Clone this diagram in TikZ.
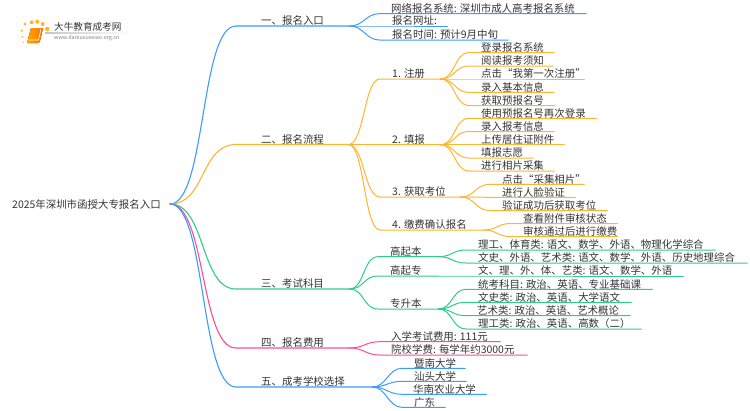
\documentclass[tikz,border=0pt]{standalone}
\usepackage{fontspec}
\setmainfont{Noto Sans CJK SC}
\definecolor{cblue}{HTML}{3D9BFF}
\definecolor{corange}{HTML}{FFB52E}
\definecolor{cgreen}{HTML}{2ECC8B}
\definecolor{cpink}{HTML}{FF4D8F}
\definecolor{ctext}{HTML}{333333}
\tikzset{
  mapnode/.style={anchor=south west,inner xsep=0pt,inner ysep=1pt,text height=8pt,text depth=0pt,text=ctext,font=\fontsize{10.45}{12}\selectfont},
  link/.style={line width=1pt,line cap=round},
  toplink/.style={line width=1.1pt,line cap=round},
}
% colour, parent, name, curve end x, y, line end x, text x, text, control distance
\newcommand{\mapitem}[9]{%
  \pgfmathsetlengthmacro{\itemw}{#6-#4}%
  \pgfmathsetlengthmacro{\itemo}{#7-#4}%
  \node[mapnode] (#3) at (#4,#5) {\makebox[\itemw][l]{\hspace*{\itemo}#8}};
  \draw[link,#1] (#2.south east) .. controls +(#9,0) and +(-#9,0) .. (#3.south west) -- (#3.south east);
}
\begin{document}
\begin{tikzpicture}[x=1pt,y=-1pt]
\useasboundingbox (0,0) rectangle (750,410);
% logo
\foreach \x/\y/\r in {21.7/30.7/1.2,25/24/1.6,31.7/22.3/2,37.3/21.7/2,42.7/24/2,47.3/29/2.3,22.3/36.7/1,23.3/42.3/.8}
  \fill[corange] (\x,\y) circle (\r);
\fill[left color=gray!45,right color=white,draw=none] (45,32.7) rectangle (133,33.4);
\fill[left color=orange!70!yellow,right color=orange!90!red] (31,28) -- (43,28) -- (40,41) .. controls (39.5,43) and (38,43) .. (37,43) -- (27,43) -- cycle;
\draw[white,line width=.6pt] (28.5,40) -- (38.5,40) -- (41,29);
\node[inner sep=0pt,anchor=west,text=ctext,font=\fontsize{9.6}{11}\selectfont] (logotitle) at (54,27) {大牛教育成考网};
\node[inner sep=0pt,anchor=west,text=gray,font=\fontsize{5.4}{6}\selectfont] (logourl) at (54,38.5) {www.daniuxuexiao.org.cn};
% root
\node[mapnode,inner ysep=0pt,anchor=west] (root) at (12,204.8) {2025年深圳市函授大专报名入口};
\coordinate (rootend) at (170,204);
% level 1
\foreach \n/\y/\e/\c/\t in {a/26/349/cblue/一、报名入口,b/144.5/348/corange/二、报名流程,c/289/349/cgreen/三、考试科目,d/348/349/cpink/四、报名费用,e/387/372/cblue/五、成考学校选择}{
  \pgfmathsetlengthmacro{\itemw}{\e-236}
  \node[mapnode] (\n) at (236,\y) {\makebox[\itemw][l]{\hspace*{25pt}\t}};
  \draw[toplink,\c] (rootend) .. controls +(36,0) and +(-36,0) .. (\n.south west) -- (\n.south east);
}
% 一
\mapitem{cblue}{a}{a1}{380}{13.7}{586}{391}{网络报名系统: 深圳市成人高考报名系统}{15}
\mapitem{cblue}{a}{a2}{380}{26}{447}{392}{报名网址:}{15}
\mapitem{cblue}{a}{a3}{380}{40}{508}{392}{报名时间: 预计9月中旬}{15}
% 二
\mapitem{corange}{b}{b1}{380}{79}{440}{392}{1. 注册}{16}
\mapitem{corange}{b}{b2}{380}{144.7}{440}{392}{2. 填报}{16}
\mapitem{corange}{b}{b3}{380}{197}{460}{392}{3. 获取考位}{16}
\mapitem{corange}{b}{b4}{380}{230}{483}{392}{4. 缴费确认报名}{16}
\mapitem{corange}{b1}{b11}{469}{52.7}{554}{481}{登录报名系统}{15}
\mapitem{corange}{b1}{b12}{469}{66}{553}{481}{阅读报考须知}{15}
\mapitem{corange}{b1}{b13}{469}{79}{584}{481}{点击“我第一次注册”}{15}
\mapitem{corange}{b1}{b14}{469}{92.3}{554}{481}{录入基本信息}{15}
\mapitem{corange}{b1}{b15}{469}{105.5}{554}{481}{获取预报名号}{15}
\mapitem{corange}{b2}{b21}{469}{118.3}{596}{481}{使用预报名号再次登录}{15}
\mapitem{corange}{b2}{b22}{469}{131.5}{554}{481}{录入报考信息}{15}
\mapitem{corange}{b2}{b23}{469}{144.7}{564}{481}{上传居住证附件}{15}
\mapitem{corange}{b2}{b24}{469}{158}{533}{481}{填报志愿}{15}
\mapitem{corange}{b2}{b25}{469}{171}{554}{481}{进行相片采集}{15}
\mapitem{corange}{b3}{b31}{490}{184.3}{584}{502}{点击“采集相片”}{15}
\mapitem{corange}{b3}{b32}{490}{197.3}{575}{502}{进行人脸验证}{15}
\mapitem{corange}{b3}{b33}{490}{210.5}{607}{502}{验证成功后获取考位}{15}
\mapitem{corange}{b4}{b41}{511}{223.5}{617}{523}{查看附件审核状态}{14}
\mapitem{corange}{b4}{b42}{511}{236.6}{617}{523}{审核通过后进行缴费}{14}
% 三
\mapitem{cgreen}{c}{c1}{378}{256.7}{438}{390}{高起本}{15}
\mapitem{cgreen}{c}{c2}{378}{276}{438}{390}{高起专}{15}
\mapitem{cgreen}{c}{c3}{378}{309}{438}{390}{专升本}{15}
\mapitem{cgreen}{c1}{c11}{466}{250}{715}{478}{理工、体育类: 语文、数学、外语、物理化学综合}{14}
\mapitem{cgreen}{c1}{c12}{466}{263}{747}{478}{文史、外语、艺术类: 语文、数学、外语、历史地理综合}{14}
\mapitem{cgreen}{c2}{c21}{466}{276}{683}{478}{文、理、外、体、艺类: 语文、数学、外语}{14}
\mapitem{cgreen}{c3}{c31}{466}{289.3}{652}{478}{统考科目: 政治、英语、专业基础课}{14}
\mapitem{cgreen}{c3}{c32}{466}{302.3}{631}{478}{文史类: 政治、英语、大学语文}{14}
\mapitem{cgreen}{c3}{c33}{466}{315.7}{630}{477}{艺术类: 政治、英语、艺术概论}{14}
\mapitem{cgreen}{c3}{c34}{466}{329}{641}{478}{理工类: 政治、英语、高数（二）}{14}
% 四
\mapitem{cpink}{d}{d1}{380}{341.7}{500}{391}{入学考试费用: 111元}{15}
\mapitem{cpink}{d}{d2}{380}{355}{527}{391}{院校学费: 每学年约3000元}{15}
% 五
\mapitem{cblue}{e}{e1}{402}{368.3}{465}{414}{暨南大学}{14}
\mapitem{cblue}{e}{e2}{402}{381.3}{466}{414}{汕头大学}{14}
\mapitem{cblue}{e}{e3}{402}{394.3}{486}{413}{华南农业大学}{14}
\mapitem{cblue}{e}{e4}{402}{407.3}{445}{414}{广东}{14}
\end{tikzpicture}
\end{document}
